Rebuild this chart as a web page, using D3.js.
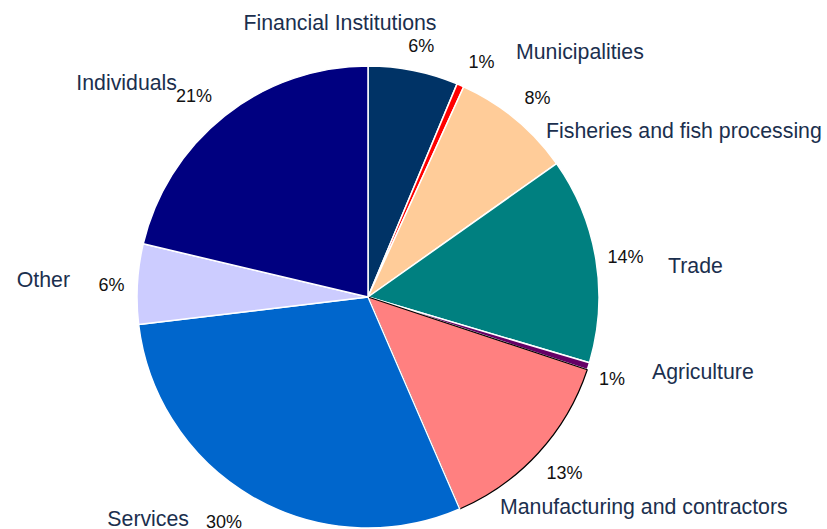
<!DOCTYPE html>
<html>
<head>
<meta charset="utf-8">
<script src="https://cdn.jsdelivr.net/npm/d3@7"></script>
<style>
  html, body { margin: 0; padding: 0; background: #fff; }
  svg { display: block; }
</style>
</head>
<body>
<svg id="chart" width="827" height="529"></svg>
<script>
// Loan portfolio by sector (share of total, %)
const sectors = [
  "Financial Institutions", "Municipalities", "Fisheries and fish processing",
  "Trade", "Agriculture", "Manufacturing and contractors",
  "Services", "Other", "Individuals"
];
const shares = [6.3, 0.5, 8.4, 14.4, 0.5, 13.4, 29.6, 5.6, 21.3];
const sliceColors = [
  "#003366", "#FF0000", "#FFCC99", "#008080", "#660066",
  "#FF8080", "#0066CC", "#CCCCFF", "#000080"
];

// Placement of the sector names around the pie (relative to its centre),
// plus a small nudge for each percentage label off its slice's mid-angle
const labelLayout = {
  "Financial Institutions":        { dx: -28,  dy: -267, anchor: "middle", px: 2,   py: 5 },
  "Municipalities":                { dx: 148,  dy: -238, anchor: "start",  px: 9,   py: 4 },
  "Fisheries and fish processing": { dx: 178,  dy: -159, anchor: "start",  px: 3,   py: 2 },
  "Trade":                         { dx: 300,  dy: -24,  anchor: "start",  px: 0,   py: 2 },
  "Agriculture":                   { dx: 284,  dy: 82,   anchor: "start",  px: -5,  py: 3 },
  "Manufacturing and contractors": { dx: 132,  dy: 217,  anchor: "start",  px: 4,   py: -1 },
  "Services":                      { dx: -179, dy: 229,  anchor: "end",    px: -14, py: -2 },
  "Other":                         { dx: -298, dy: -10,  anchor: "end",    px: 4,   py: 2 },
  "Individuals":                   { dx: -191, dy: -207, anchor: "end",    px: -12, py: 3 }
};

const data = sectors.map((name, i) => ({ name, value: shares[i], color: sliceColors[i] }));

const svg = d3.select("#chart");
const cx = 368, cy = 297, radius = 231;
const g = svg.append("g").attr("transform", `translate(${cx},${cy})`);

const pie = d3.pie().value(d => d.value).sort(null);
const arc = d3.arc().innerRadius(0).outerRadius(radius);
const labelArc = d3.arc().innerRadius(radius * 1.13).outerRadius(radius * 1.13);

const arcs = pie(data);

g.selectAll("path.slice")
  .data(arcs)
  .join("path")
  .attr("class", "slice")
  .attr("d", arc)
  .attr("fill", d => d.data.color)
  .attr("stroke", d => d.data.name === "Manufacturing and contractors" ? "#000" : "#fff")
  .attr("stroke-width", d => d.data.name === "Manufacturing and contractors" ? 1.2 : 1.5)
  .attr("stroke-linejoin", "round");

// Percentage labels just outside each slice
g.selectAll("text.pct")
  .data(arcs)
  .join("text")
  .attr("class", "pct")
  .attr("transform", d => {
    const [x, y] = labelArc.centroid(d);
    const L = labelLayout[d.data.name];
    return `translate(${x + L.px},${y + L.py})`;
  })
  .attr("text-anchor", "middle")
  .attr("dy", "0.35em")
  .attr("font-family", "Liberation Sans, Arial, sans-serif")
  .attr("font-size", 18)
  .attr("fill", "#111")
  .text(d => Math.round(d.data.value) + "%");

// Sector names
g.selectAll("text.name")
  .data(arcs)
  .join("text")
  .attr("class", "name")
  .attr("x", d => labelLayout[d.data.name].dx)
  .attr("y", d => labelLayout[d.data.name].dy)
  .attr("text-anchor", d => labelLayout[d.data.name].anchor)
  .attr("font-family", "Liberation Sans, Arial, sans-serif")
  .attr("font-size", 21.3)
  .attr("fill", "#1B2F4E")
  .text(d => d.data.name);
</script>
</body>
</html>
